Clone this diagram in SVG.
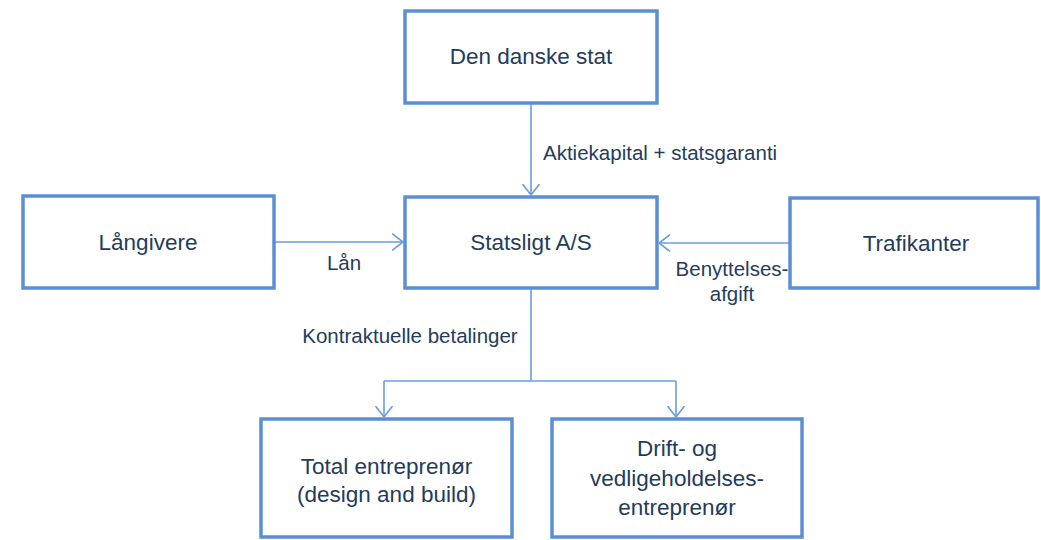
<svg xmlns="http://www.w3.org/2000/svg" width="1041" height="540" viewBox="0 0 1041 540">
<defs>
<style>
.box{fill:#ffffff;stroke:#5a8fd6;stroke-width:3.5}
.bt{font-family:"Liberation Sans",Arial,sans-serif;font-size:22.5px;fill:#233c5c;text-anchor:middle}
.lt{font-family:"Liberation Sans",Arial,sans-serif;font-size:20.5px;fill:#233c5c}
.con{fill:none;stroke:#6b9de0;stroke-width:1.6}
</style>
<marker id="arr" viewBox="0 0 12 18" refX="11.5" refY="9" markerWidth="12" markerHeight="18" markerUnits="userSpaceOnUse" orient="auto">
<path d="M0.5,0.5 L11.5,9 L0.5,17.5" fill="none" stroke="#6b9de0" stroke-width="1.6"/>
</marker>
</defs>
<rect width="1041" height="540" fill="#ffffff"/>
<g id="connectors">
<path class="con" d="M531,103 V195" marker-end="url(#arr)"/>
<path class="con" d="M274,242 H403" marker-end="url(#arr)"/>
<path class="con" d="M790,243 H659" marker-end="url(#arr)"/>
<path class="con" d="M531,288 V381"/>
<path class="con" d="M384,381 H676"/>
<path class="con" d="M384,381 V417" marker-end="url(#arr)"/>
<path class="con" d="M676,381 V417" marker-end="url(#arr)"/>
<text class="lt" x="543" y="160">Aktiekapital + statsgaranti</text>
<text class="lt" x="344" y="270" text-anchor="middle">Lån</text>
<text class="lt" x="732" y="276" text-anchor="middle">Benyttelses-</text>
<text class="lt" x="732" y="301" text-anchor="middle">afgift</text>
<text class="lt" x="410" y="343" text-anchor="middle">Kontraktuelle betalinger</text>
</g>
<g id="den-danske-stat">
<rect class="box" x="405" y="11" width="252" height="92"/>
<text class="bt" x="531" y="64">Den danske stat</text>
</g>
<g id="langivere">
<rect class="box" x="23" y="196" width="251" height="92"/>
<text class="bt" x="148" y="250">Långivere</text>
</g>
<g id="statsligt">
<rect class="box" x="405" y="197" width="252" height="91"/>
<text class="bt" x="531" y="250">Statsligt A/S</text>
</g>
<g id="trafikanter">
<rect class="box" x="790" y="198" width="248" height="90"/>
<text class="bt" x="916" y="251">Trafikanter</text>
</g>
<g id="total-entreprenor">
<rect class="box" x="261" y="419" width="251" height="118"/>
<text class="bt" x="386.5" y="474">Total entreprenør</text>
<text class="bt" x="386.5" y="502">(design and build)</text>
</g>
<g id="drift-entreprenor">
<rect class="box" x="552" y="419" width="250" height="118"/>
<text class="bt" x="677" y="456">Drift- og</text>
<text class="bt" x="677" y="486">vedligeholdelses-</text>
<text class="bt" x="677" y="515">entreprenør</text>
</g>
</svg>
